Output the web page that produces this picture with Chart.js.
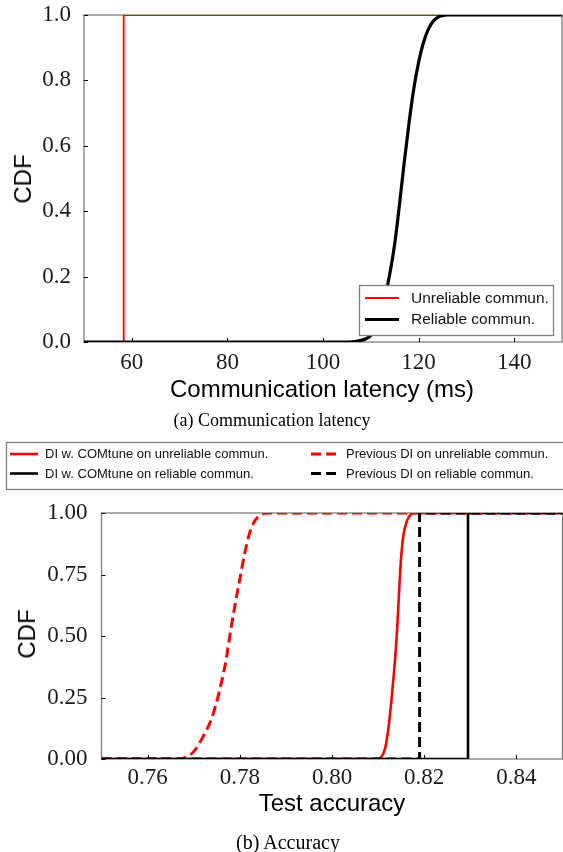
<!DOCTYPE html>
<html>
<head>
<meta charset="utf-8">
<script src="https://cdn.jsdelivr.net/npm/chart.js@4.4.1/dist/chart.umd.min.js"></script>
<style>
  html, body { margin: 0; padding: 0; background: #fff; }
  #page { position: relative; width: 563px; height: 852px; overflow: hidden; background: #fff; }
  .panel { position: absolute; left: 0; width: 563px; }
  .lbl { position: absolute; white-space: nowrap; color: #000; transform: translate(-50%, -50%); line-height: 1; }
  .sans { font-family: "Liberation Sans", Arial, Helvetica, sans-serif; }
  .serif { font-family: "Liberation Serif", "Times New Roman", serif; }
  .rot { transform: translate(-50%, -50%) rotate(-90deg); }
</style>
</head>
<body>
<div id="page">
  <div class="panel" style="top:0;height:380px"><canvas id="latency" width="563" height="380"></canvas></div>
  <div class="panel" style="top:440px;height:380px"><canvas id="accuracy" width="563" height="380"></canvas></div>

  <div class="lbl sans rot" style="left:23px;top:179px;font-size:24px">CDF</div>
  <div class="lbl sans" style="left:322px;top:389px;font-size:24px">Communication latency (ms)</div>
  <div class="lbl serif" style="left:272px;top:420px;font-size:18px">(a) Communication latency</div>

  <div class="lbl sans rot" style="left:27px;top:634px;font-size:24px">CDF</div>
  <div class="lbl sans" style="left:332px;top:803px;font-size:24px">Test accuracy</div>
  <div class="lbl serif" style="left:288px;top:842px;font-size:20px">(b) Accuracy</div>
</div>

<script>
// ---- (a) latency CDF ----
const latencyTicks = [60, 80, 100, 120, 140];
const latencyCdfTicks = [0, 0.2, 0.4, 0.6, 0.8, 1.0];

const unreliableLatency    = [50, 58.3, 58.3, 150];
const unreliableLatencyCdf = [0, 0, 1, 1];

const reliableLatency    = [50, 105, 107, 109, 110, 111, 112, 113, 114, 115, 116, 117, 118, 119, 120, 121, 122, 123, 124, 125, 126, 150];
const reliableLatencyCdf = [0, 0, 0.002, 0.01, 0.02, 0.045, 0.09, 0.14, 0.21, 0.30, 0.42, 0.55, 0.67, 0.775, 0.855, 0.915, 0.955, 0.98, 0.993, 0.998, 1, 1];

// ---- (b) accuracy CDF ----
const accuracyTicks = [0.76, 0.78, 0.80, 0.82, 0.84];
const accuracyCdfTicks = [0, 0.25, 0.5, 0.75, 1.0];

const comtuneUnreliableAcc = [0.75, 0.8100, 0.8108, 0.8116, 0.8124, 0.8131, 0.8137, 0.8142, 0.8146, 0.8150, 0.8155, 0.8162, 0.8170, 0.8178, 0.85];
const comtuneUnreliableCdf = [0, 0, 0.01, 0.05, 0.15, 0.28, 0.41, 0.55, 0.70, 0.82, 0.91, 0.965, 0.992, 1, 1];

const comtuneReliableAcc = [0.75, 0.8295, 0.8295, 0.85];
const comtuneReliableCdf = [0, 0, 1, 1];

const previousUnreliableAcc = [0.75, 0.767, 0.768, 0.770, 0.772, 0.774, 0.7755, 0.777, 0.778, 0.779, 0.780, 0.781, 0.782, 0.783, 0.784, 0.786, 0.85];
const previousUnreliableCdf = [0, 0, 0.005, 0.03, 0.09, 0.17, 0.27, 0.40, 0.52, 0.63, 0.73, 0.83, 0.91, 0.96, 0.985, 1, 1];

const previousReliableAcc = [0.75, 0.819, 0.819, 0.85];
const previousReliableCdf = [0, 0, 1, 1];

const pts = (xs, ys) => xs.map((x, i) => ({ x, y: ys[i] }));

const SERIF = '"Liberation Serif", "Times New Roman", serif';
const SANS = '"Liberation Sans", Arial, Helvetica, sans-serif';
const SPINE = '#7f7f7f';

// Grey frame around the plot area plus short inward tick marks.
const framePlugin = {
  id: 'frame',
  beforeDatasetsDraw(chart) {
    const { ctx, chartArea: a, scales } = chart;
    ctx.save();
    ctx.strokeStyle = SPINE;
    ctx.lineWidth = 1.3;
    ctx.strokeRect(a.left, a.top, a.right - a.left, a.bottom - a.top);
    ctx.strokeStyle = '#000';
    ctx.lineWidth = 1;
    const len = 4;
    scales.x.ticks.forEach(t => {
      const px = Math.round(scales.x.getPixelForValue(t.value)) + 0.5;
      ctx.beginPath(); ctx.moveTo(px, a.bottom); ctx.lineTo(px, a.bottom - len); ctx.stroke();
    });
    scales.y.ticks.forEach(t => {
      const py = Math.round(scales.y.getPixelForValue(t.value)) + 0.5;
      ctx.beginPath(); ctx.moveTo(a.left, py); ctx.lineTo(a.left + len, py); ctx.stroke();
    });
    ctx.restore();
  }
};

// Boxed legend drawn with each dataset's own stroke style.
const boxLegendPlugin = {
  id: 'boxLegend',
  afterDraw(chart, args, opts) {
    if (!opts || !opts.entries) return;
    const { ctx } = chart;
    const ds = chart.data.datasets;
    ctx.save();
    ctx.fillStyle = '#fff';
    ctx.fillRect(opts.box[0], opts.box[1], opts.box[2], opts.box[3]);
    ctx.strokeStyle = SPINE;
    ctx.lineWidth = 1.3;
    ctx.strokeRect(opts.box[0], opts.box[1], opts.box[2], opts.box[3]);
    ctx.font = opts.font;
    ctx.textBaseline = 'middle';
    ctx.textAlign = 'left';
    opts.entries.forEach(e => {
      const d = ds[e.index];
      ctx.strokeStyle = d.borderColor;
      ctx.lineWidth = d.borderWidth;
      ctx.setLineDash(d.borderDash || []);
      ctx.beginPath();
      ctx.moveTo(e.x, e.y);
      ctx.lineTo(e.x + opts.sample, e.y);
      ctx.stroke();
      ctx.setLineDash([]);
      ctx.fillStyle = '#111';
      ctx.fillText(d.label, e.x + opts.sample + opts.gap, e.y + 0.5);
    });
    ctx.restore();
  }
};

function axes(cfg) {
  return {
    x: {
      type: 'linear', min: cfg.xmin, max: cfg.xmax,
      grid: { display: false, drawTicks: false },
      border: { display: false },
      afterBuildTicks: s => { s.ticks = cfg.xticks.map(v => ({ value: v })); },
      afterFit: s => { s.height = cfg.xh; s.paddingLeft = 0; s.paddingRight = 0; },
      ticks: {
        autoSkip: false, maxRotation: 0, padding: cfg.xpad, color: '#1a1a1a',
        font: { family: SERIF, size: 23 },
        callback: v => v.toFixed(cfg.xdec)
      }
    },
    y: {
      type: 'linear', min: 0, max: 1,
      grid: { display: false, drawTicks: false },
      border: { display: false },
      afterBuildTicks: s => { s.ticks = cfg.yticks.map(v => ({ value: v })); },
      afterFit: s => { s.width = cfg.yw; s.paddingTop = 0; s.paddingBottom = 0; },
      ticks: {
        autoSkip: false, padding: cfg.ypad, color: '#1a1a1a',
        font: { family: SERIF, size: 23 },
        callback: v => v.toFixed(cfg.ydec)
      }
    }
  };
}

const common = {
  responsive: false,
  animation: false,
  events: [],
  elements: { point: { radius: 0 } }
};

new Chart(document.getElementById('latency'), {
  type: 'scatter',
  data: {
    datasets: [
      { label: 'Unreliable commun.', data: pts(unreliableLatency, unreliableLatencyCdf),
        showLine: true, borderColor: '#ff0000', borderWidth: 1.8, tension: 0, order: 1 },
      { label: 'Reliable commun.', data: pts(reliableLatency, reliableLatencyCdf),
        showLine: true, borderColor: '#000000', borderWidth: 3.2, cubicInterpolationMode: 'monotone', order: 0 }
    ]
  },
  options: Object.assign({}, common, {
    layout: { padding: { top: 15, right: 1, left: 0, bottom: 0 } },
    scales: axes({ xmin: 50, xmax: 150, xticks: latencyTicks, yticks: latencyCdfTicks,
                   xdec: 0, ydec: 1, xh: 38, yw: 84, xpad: 7, ypad: 13 }),
    plugins: {
      legend: { display: false }, tooltip: { enabled: false },
      boxLegend: {
        box: [359.5, 285.5, 194, 50],
        font: '15.5px ' + SANS, sample: 34, gap: 12,
        entries: [ { index: 0, x: 365, y: 298 }, { index: 1, x: 365, y: 319.5 } ]
      }
    }
  }),
  plugins: [framePlugin, boxLegendPlugin]
});

new Chart(document.getElementById('accuracy'), {
  type: 'scatter',
  data: {
    datasets: [
      { label: 'DI w. COMtune on unreliable commun.', data: pts(comtuneUnreliableAcc, comtuneUnreliableCdf),
        showLine: true, borderColor: '#ff0000', borderWidth: 2.6, cubicInterpolationMode: 'monotone', order: 3 },
      { label: 'DI w. COMtune on reliable commun.', data: pts(comtuneReliableAcc, comtuneReliableCdf),
        showLine: true, borderColor: '#000000', borderWidth: 2.6, tension: 0, order: 2 },
      { label: 'Previous DI on unreliable commun.', data: pts(previousUnreliableAcc, previousUnreliableCdf),
        showLine: true, borderColor: '#ff0000', borderWidth: 3, borderDash: [10, 5], cubicInterpolationMode: 'monotone', order: 1 },
      { label: 'Previous DI on reliable commun.', data: pts(previousReliableAcc, previousReliableCdf),
        showLine: true, borderColor: '#000000', borderWidth: 3, borderDash: [10, 5], tension: 0, order: 0 }
    ]
  },
  options: Object.assign({}, common, {
    layout: { padding: { top: 73, right: 0.5, left: 0, bottom: 0 } },
    scales: axes({ xmin: 0.75, xmax: 0.85, xticks: accuracyTicks, yticks: accuracyCdfTicks,
                   xdec: 2, ydec: 2, xh: 61, yw: 101.5, xpad: 5, ypad: 14 }),
    plugins: {
      legend: { display: false }, tooltip: { enabled: false },
      boxLegend: {
        box: [6.5, 2.5, 570, 47],
        font: '13px ' + SANS, sample: 28, gap: 7,
        entries: [
          { index: 0, x: 10, y: 14 }, { index: 1, x: 10, y: 33.5 },
          { index: 2, x: 311, y: 14 }, { index: 3, x: 311, y: 33.5 }
        ]
      }
    }
  }),
  plugins: [framePlugin, boxLegendPlugin]
});
</script>
</body>
</html>
